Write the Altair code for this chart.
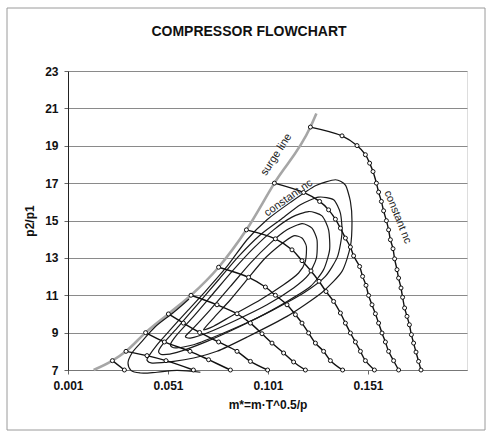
import altair as alt
import pandas as pd

# ---------------- data ----------------
surge_x = [0.0138, 0.0232, 0.0300, 0.0398, 0.0512, 0.0625, 0.0763, 0.0902, 0.1042, 0.1222, 0.1252]
surge_y = [7.0, 7.5, 8.0, 9.0, 10.0, 11.0, 12.5, 14.5, 17.0, 20.0, 20.73]

n1_x = [0.0232, 0.0292]
n1_y = [7.5, 7.0]
n2_x = [0.0300, 0.0405, 0.0500, 0.0637]
n2_y = [8.0, 7.77, 7.5, 7.0]
n3_x = [0.0398, 0.0492, 0.0620, 0.0713, 0.0822]
n3_y = [9.0, 8.5, 8.0, 7.55, 7.0]
n4_x = [0.0512, 0.0587, 0.0668, 0.0763, 0.0855, 0.0922, 0.1008]
n4_y = [10.0, 9.51, 9.01, 8.5, 8.0, 7.46, 7.0]
n5_x = [0.0625, 0.0755, 0.0855, 0.0922, 0.0980, 0.1030, 0.1088, 0.1138, 0.1197]
n5_y = [11.0, 10.49, 10.01, 9.51, 8.94, 8.44, 7.91, 7.43, 7.0]
n6_x = [0.0763, 0.0913, 0.0997, 0.1047, 0.1105, 0.1147, 0.1180, 0.1213, 0.1247, 0.1288, 0.1322, 0.1383]
n6_y = [12.5, 11.96, 11.44, 11.0, 10.49, 9.96, 9.51, 8.98, 8.44, 8.0, 7.5, 7.0]
n7_x = [0.0902, 0.1047, 0.1130, 0.1180, 0.1225, 0.1265, 0.1300, 0.1338, 0.1372, 0.1397, 0.1422,
        0.1447, 0.1472, 0.1497, 0.1542]
n7_y = [14.5, 14.02, 13.43, 12.85, 12.3, 11.75, 11.2, 10.67, 10.05, 9.51, 8.98, 8.5, 8.0, 7.5, 7.0]
n8_x = [0.1042, 0.1188, 0.1268, 0.1313, 0.1347, 0.1372, 0.1397, 0.1422, 0.1438, 0.1468, 0.1483,
        0.1500, 0.1513, 0.1530, 0.1547, 0.1563, 0.1580, 0.1597, 0.1613, 0.1638, 0.1663]
n8_y = [17.0, 16.5, 16.02, 15.57, 15.07, 14.59, 14.06, 13.58, 13.11, 12.54, 12.01, 11.53, 10.99,
        10.49, 10.01, 9.51, 8.98, 8.5, 8.0, 7.5, 7.0]
n9_x = [0.1222, 0.1380, 0.1455, 0.1497, 0.1518, 0.1535, 0.1552, 0.1563, 0.1577, 0.1588, 0.1602,
        0.1613, 0.1622, 0.1635, 0.1643, 0.1655, 0.1663, 0.1675, 0.1683, 0.1693, 0.1705, 0.1717,
        0.1727, 0.1738, 0.1750, 0.1763, 0.1775]
n9_y = [20.0, 19.53, 19.01, 18.52, 18.07, 17.62, 17.0, 16.52, 16.02, 15.52, 14.99, 14.5, 13.97,
        13.49, 12.95, 12.37, 11.92, 11.39, 10.89, 10.32, 9.87, 9.42, 8.89, 8.44, 7.96, 7.46, 7.0]

# efficiency contours (closed loops) and one open lower contour
c1_x = [0.0413, 0.0455, 0.0522, 0.0605, 0.0697, 0.0805, 0.0905, 0.1005, 0.1122, 0.1247, 0.1347,
        0.1397, 0.1422, 0.1430, 0.1422, 0.1380, 0.1280, 0.1105, 0.0905, 0.0755, 0.0638, 0.0538,
        0.0430, 0.0405]
c1_y = [7.73, 8.35, 9.16, 10.14, 11.21, 12.54, 13.97, 15.04, 15.97, 16.86, 17.18, 16.89, 16.02,
        14.95, 13.61, 12.28, 11.15, 9.87, 8.76, 8.00, 7.64, 7.46, 7.37, 7.52]
c2_x = [0.0463, 0.0488, 0.0563, 0.0663, 0.0763, 0.0863, 0.0972, 0.1072, 0.1172, 0.1263, 0.1338,
        0.1372, 0.1380, 0.1358, 0.1297, 0.1188, 0.1038, 0.0872, 0.0705, 0.0555, 0.0480]
c2_y = [8.00, 8.44, 9.34, 10.58, 11.83, 13.08, 14.24, 15.04, 15.84, 16.25, 16.11, 15.40, 14.33,
        13.08, 12.01, 11.12, 10.23, 9.34, 8.53, 7.94, 7.82]
c3_x = [0.0522, 0.0555, 0.0638, 0.0738, 0.0838, 0.0938, 0.1038, 0.1130, 0.1213, 0.1280, 0.1313,
        0.1318, 0.1288, 0.1222, 0.1105, 0.0955, 0.0788, 0.0638, 0.0547]
c3_y = [8.35, 8.89, 9.87, 11.12, 12.37, 13.52, 14.50, 15.18, 15.48, 15.25, 14.50, 13.43, 12.37,
        11.47, 10.67, 9.78, 8.98, 8.35, 8.18]
c4_x = [0.0597, 0.0638, 0.0722, 0.0822, 0.0922, 0.1022, 0.1105, 0.1180, 0.1230, 0.1255, 0.1252,
        0.1213, 0.1138, 0.1005, 0.0855, 0.0705, 0.0622]
c4_y = [8.80, 9.25, 10.23, 11.47, 12.72, 13.79, 14.50, 14.83, 14.59, 13.97, 12.99, 12.10, 11.39,
        10.49, 9.69, 8.98, 8.71]
c5_x = [0.0688, 0.0738, 0.0822, 0.0905, 0.0988, 0.1072, 0.1138, 0.1180, 0.1202, 0.1197, 0.1163,
        0.1088, 0.0972, 0.0838, 0.0738]
c5_y = [9.16, 9.78, 10.76, 11.83, 12.90, 13.70, 14.18, 14.06, 13.61, 12.81, 12.19, 11.56, 10.76,
        9.96, 9.34]
c0_x = [0.0672, 0.0555, 0.0455, 0.0372, 0.0325, 0.0310, 0.0330, 0.0380, 0.0445, 0.0540, 0.0615]
c0_y = [6.88, 6.98, 6.88, 6.84, 6.98, 7.37, 7.91, 8.53, 9.30, 10.10, 10.80]

label_text = ["surge line", "constant nc", "constant nc"]
label_x = [0.1052, 0.1113, 0.1658]
label_y = [18.52, 16.20, 15.18]
label_angle = [303, 325, 68]

title_text = "COMPRESSOR FLOWCHART"
y_ticks = [7, 9, 11, 13, 15, 17, 19, 21, 23]
x_ticks = [0.001, 0.051, 0.101, 0.151]


def frame(xs, ys, name):
    return pd.DataFrame({"x": xs, "y": ys, "s": name, "o": list(range(len(xs)))})


speed = pd.concat([frame(n1_x, n1_y, "n1"), frame(n2_x, n2_y, "n2"), frame(n3_x, n3_y, "n3"),
                   frame(n4_x, n4_y, "n4"), frame(n5_x, n5_y, "n5"), frame(n6_x, n6_y, "n6"),
                   frame(n7_x, n7_y, "n7"), frame(n8_x, n8_y, "n8"), frame(n9_x, n9_y, "n9")])
loops = pd.concat([frame(c1_x, c1_y, "c1"), frame(c2_x, c2_y, "c2"), frame(c3_x, c3_y, "c3"),
                   frame(c4_x, c4_y, "c4"), frame(c5_x, c5_y, "c5")])
open_c = frame(c0_x, c0_y, "c0")
surge = frame(surge_x, surge_y, "surge")
labels = pd.DataFrame({"t": label_text, "x": label_x, "y": label_y, "a": label_angle})

FONT = "Liberation Sans"
xs = alt.Scale(domain=[0.001, 0.2005], nice=False, zero=False)
ys = alt.Scale(domain=[7, 23], nice=False, zero=False)

x_axis = alt.Axis(
    values=x_ticks, format=".3f", title="m*=m·T^0.5/p", grid=False,
    labelFont=FONT, labelFontSize=12, labelFontWeight="bold", labelColor="#111",
    titleFont=FONT, titleFontSize=12, titleFontWeight="bold", titleColor="#111",
    tickSize=4, tickColor="#666", domainColor="#777", labelPadding=6, titlePadding=8,
    labelFlush=False, labelOverlap=False)
y_axis = alt.Axis(
    values=y_ticks, title="p2/p1", grid=True, gridColor="#8a8a8a", gridWidth=1,
    labelFont=FONT, labelFontSize=12, labelFontWeight="bold", labelColor="#111",
    titleFont=FONT, titleFontSize=12, titleFontWeight="bold", titleColor="#111",
    tickSize=4, tickColor="#666", domainColor="#222", labelPadding=6, titlePadding=8,
    labelOverlap=False)

X = alt.X("x:Q", scale=xs, axis=x_axis)
Y = alt.Y("y:Q", scale=ys, axis=y_axis)

surge_layer = alt.Chart(surge).mark_line(color="#a6a6a6", strokeWidth=2.6, interpolate="monotone").encode(
    x=X, y=Y, order="o:Q")

loop_layer = alt.Chart(loops).mark_line(color="#1a1a1a", strokeWidth=1.2, interpolate="cardinal-closed",
                                        tension=0.35).encode(
    x=X, y=Y, detail="s:N", order="o:Q")

open_layer = alt.Chart(open_c).mark_line(color="#1a1a1a", strokeWidth=1.2, interpolate="catmull-rom").encode(
    x=X, y=Y, order="o:Q")

speed_layer = alt.Chart(speed).mark_line(color="#111", strokeWidth=1.4, interpolate="catmull-rom").encode(
    x=X, y=Y, detail="s:N", order="o:Q")

pts_layer = alt.Chart(speed).mark_point(shape="circle", filled=True, fill="white", stroke="#111",
                                         strokeWidth=1, size=16, opacity=1).encode(x=X, y=Y)

text_layer = alt.Chart(labels).mark_text(font=FONT, fontSize=11, color="#222", align="center",
                                         baseline="middle").encode(
    x=X, y=Y, text="t:N", angle=alt.Angle("a:Q", scale=None))

title_layer = alt.Chart(pd.DataFrame({"t": [title_text]})).mark_text(
    font=FONT, fontSize=14, fontWeight="bold", color="#111", align="center", baseline="middle").encode(
    x=alt.value(181), y=alt.value(-39), text="t:N")

border = alt.Chart(pd.DataFrame({"k": [0]})).mark_rect(fill=None, stroke="#9a9a9a", strokeWidth=1).encode(
    x=alt.value(-61), x2=alt.value(417), y=alt.value(-63), y2=alt.value(359))

chart = alt.layer(border, surge_layer, loop_layer, open_layer, speed_layer, pts_layer, text_layer,
                  title_layer).properties(
    width=399, height=299,
    autosize=alt.AutoSizeParams(type="none"),
    padding={"left": 68, "top": 71, "right": 19, "bottom": 62},
).configure_view(stroke=None).configure(background="white")

chart.save("out.html", embed_options={"renderer": "svg", "actions": False})
